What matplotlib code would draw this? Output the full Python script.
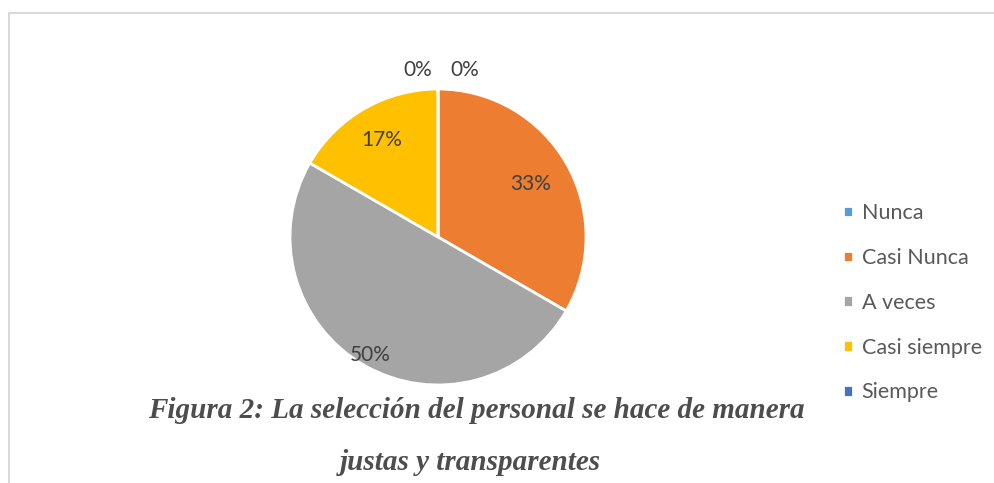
import numpy as np
import matplotlib.pyplot as plt
from matplotlib.patches import Rectangle

# datos del gráfico
categorias = ['Nunca', 'Casi Nunca', 'A veces', 'Casi siempre', 'Siempre']
porcentajes = [0, 33.33, 50, 16.67, 0]
etiquetas = ['0%', '33%', '50%', '17%', '0%']
colores = ['#5B9BD5', '#ED7D31', '#A5A5A5', '#FFC000', '#4472C4']

titulo_1 = 'Figura 2: La selección del personal se hace de manera'
titulo_2 = 'justas y transparentes'

fig = plt.figure(figsize=(9.95, 4.83), dpi=100)

# marco del gráfico (recortado por el borde derecho e inferior)
fig.patches.append(Rectangle((9 / 995, -0.1), 1.0, 1 - 13 / 483 + 0.1,
                             transform=fig.transFigure, fill=False,
                             edgecolor='#D9D9D9', linewidth=1.5))

# eje del pastel: centro ~(438, 237), radio ~148 px
r_px = 148
cx, cy = 438, 483 - 237
ax = fig.add_axes([(cx - r_px) / 995, (cy - r_px) / 483,
                   2 * r_px / 995, 2 * r_px / 483])
wedges, _ = ax.pie(porcentajes, colors=colores, startangle=90,
                   counterclock=False, radius=1.0,
                   wedgeprops=dict(edgecolor='white', linewidth=2))
ax.set_xlim(-1, 1)
ax.set_ylim(-1, 1)
ax.set_aspect('equal')
ax.axis('off')

# posición radial de cada etiqueta y desplazamiento angular
dist = [1.14, 0.72, 0.92, 0.76, 1.14]
desv = [-9, 0, 0, 0, 7]
for w, txt, d, da in zip(wedges, etiquetas, dist, desv):
    ang = np.deg2rad((w.theta1 + w.theta2) / 2 + da)
    ax.text(d * np.cos(ang), d * np.sin(ang), txt, ha='center', va='center',
            fontsize=15, color='#404040', family='Lato')

leg = fig.legend(wedges, categorias, loc='upper left',
                 bbox_to_anchor=(824 / 995, 1 - 184 / 483),
                 frameon=False, labelspacing=1.15,
                 handlelength=0.45, handleheight=0.45, handletextpad=0.4,
                 prop={'family': 'Lato', 'size': 15.5})
for t in leg.get_texts():
    t.set_color('#595959')

estilo = dict(ha='center', va='center', fontsize=21, fontweight='bold',
              fontstyle='italic', family='Liberation Serif', color='#4d4d4d')
fig.text(476 / 995, 1 - 410 / 483, titulo_1, **estilo)
fig.text(470 / 995, 1 - 462 / 483, titulo_2, **estilo)

fig.savefig('out.png', dpi=100)
